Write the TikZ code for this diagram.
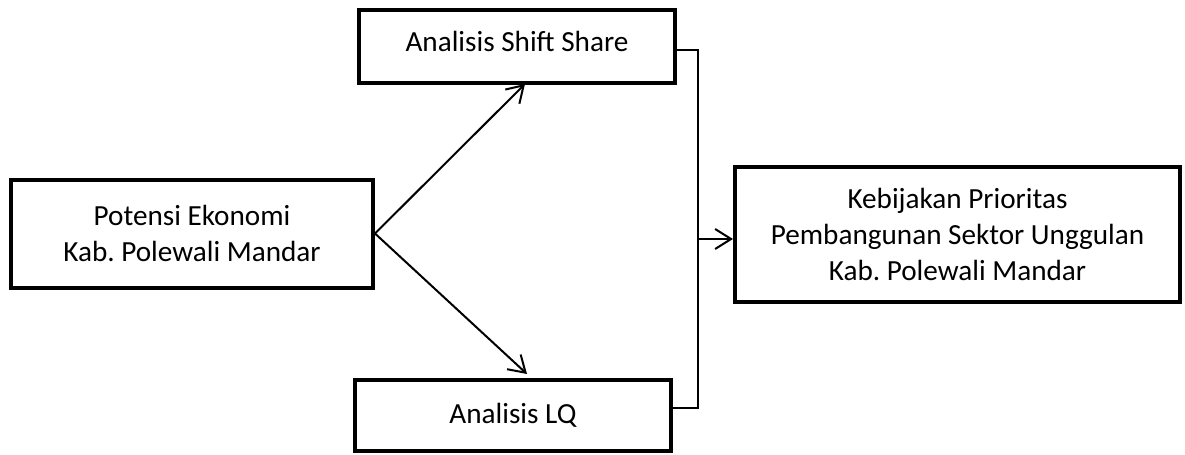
\documentclass[tikz,border=0pt]{standalone}
\usepackage{fontspec}
\setmainfont{Carlito}
\usetikzlibrary{arrows.meta, positioning}
\frenchspacing

\begin{document}
\begin{tikzpicture}[
    x=0.5pt, y=-0.5pt,
    every node/.style={font=\fontsize{14.6}{18}\selectfont},
    box/.style={rectangle, draw, line width=2pt, align=center, inner sep=0pt},
    arrow/.style={-{Straight Barb[length=8pt, width=10pt]}, line width=1pt},
    link/.style={line width=0.7pt}
]
\useasboundingbox (0,0) rectangle (1185,455);

% ============ SOURCE ============
\node[box, minimum width=181pt, minimum height=54pt] (potensi) at (192, 233.5) {Potensi Ekonomi\\Kab. Polewali Mandar};

% ============ ANALYSES ============
\node[box, minimum width=158pt, minimum height=36.5pt] (shift) at (517, 46.5) {\raisebox{5pt}{Analisis Shift Share}};
\node[box, minimum width=158pt, minimum height=35.5pt] (lq) at (513, 415.5) {Analisis LQ};

% ============ RESULT ============
\node[box, minimum width=222.5pt, minimum height=67.5pt] (kebijakan) at (957.5, 234.5) {Kebijakan Prioritas\\Pembangunan Sektor Unggulan\\Kab. Polewali Mandar};

% Arrows to the analyses
\coordinate (shiftin) at (525, 84);
\coordinate (lqin) at (527, 374);
\draw[arrow] (potensi.east) -- (shiftin);
\draw[arrow] (potensi.east) -- (lqin);

% Bracket joining both analyses
\coordinate (join) at (698, 239);
\draw[link] (shift.east |- 0,50) -- (698, 50) -- (698, 408) -- (lq.east |- 0,408);
\draw[arrow] (join) -- (join -| kebijakan.west);

\end{tikzpicture}
\end{document}
